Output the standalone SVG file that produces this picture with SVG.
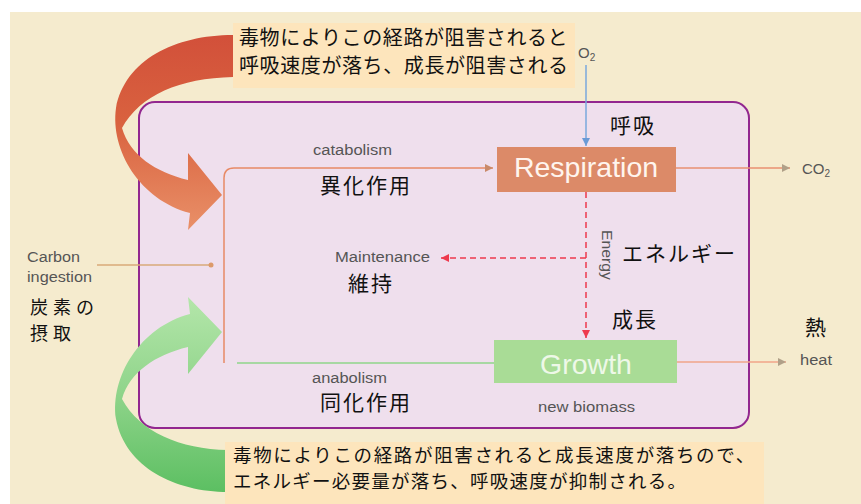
<svg xmlns="http://www.w3.org/2000/svg" width="861" height="504" viewBox="0 0 861 504">
<style>
.lbl{font-family:"Noto Sans CJK JP",sans-serif;font-size:21px;letter-spacing:2px;fill:#111;}
.call{font-family:"Noto Sans CJK JP",sans-serif;font-size:20px;fill:#111;}
.callsm{font-family:"Noto Sans CJK JP",sans-serif;font-size:18.5px;fill:#111;}
.lblsm{font-family:"Noto Sans CJK JP",sans-serif;font-size:18px;letter-spacing:5px;fill:#111;}
.gray{font-family:"Liberation Sans",Arial,sans-serif;font-size:14px;fill:#555;}
.box{font-family:"Liberation Sans",Arial,sans-serif;font-size:28.5px;}
.ln{fill:none;stroke-width:1.5;}
</style>
<defs>
<linearGradient id="gOr" x1="0" y1="0" x2="0" y2="1">
<stop offset="0" stop-color="#d2503a"/><stop offset="0.45" stop-color="#d9623f"/><stop offset="1" stop-color="#e99068"/>
</linearGradient>
<linearGradient id="gGr" x1="0" y1="0" x2="0" y2="1">
<stop offset="0" stop-color="#b4e6aa"/><stop offset="0.5" stop-color="#8fd48a"/><stop offset="1" stop-color="#5cbf62"/>
</linearGradient>
<marker id="aOr" markerUnits="userSpaceOnUse" markerWidth="8" markerHeight="8" refX="8" refY="4" orient="auto"><path d="M0,0 L8,4 L0,8 z" fill="#c98a6a"/></marker>
<marker id="aBl" markerUnits="userSpaceOnUse" markerWidth="8" markerHeight="8" refX="8" refY="4" orient="auto"><path d="M0,0 L8,4 L0,8 z" fill="#6a9ad6"/></marker>
<marker id="aRd" markerUnits="userSpaceOnUse" markerWidth="8" markerHeight="8" refX="8" refY="4" orient="auto"><path d="M0,0 L8,4 L0,8 z" fill="#ee3a4e"/></marker>
<marker id="aGy" markerUnits="userSpaceOnUse" markerWidth="8" markerHeight="8" refX="8" refY="4" orient="auto"><path d="M0,0 L8,4 L0,8 z" fill="#b0a088"/></marker>
<marker id="aDot" markerUnits="userSpaceOnUse" markerWidth="6" markerHeight="6" refX="3" refY="3"><circle cx="3" cy="3" r="2.5" fill="#dc9a6a"/></marker>
</defs>

<rect x="10" y="12" width="851" height="492" fill="#f5ebce"/>

<g id="cell">
<rect x="139" y="102" width="610" height="326" rx="16" fill="#efdfed" stroke="#92278f" stroke-width="2"/>
</g>

<g id="connectors">
<path class="ln" d="M224,363 L224,178 Q224,168 234,168 L493,168" stroke="#e88a66" marker-end="url(#aOr)"/>
<path class="ln" d="M237,363 L495,363" stroke="#8fd68a"/>
<path class="ln" d="M97,265 L211,265" stroke="#d8aa78" marker-end="url(#aDot)"/>
<path class="ln" d="M586,65 L586,146" stroke="#7aa8dc" marker-end="url(#aBl)"/>
<path class="ln" d="M676,168 L790,168" stroke="#e89070" marker-end="url(#aGy)"/>
<path class="ln" d="M677,362 L786,362" stroke="#f0a488" marker-end="url(#aGy)"/>
<path class="ln" d="M586,192 L586,338" stroke="#ee3a4e" stroke-dasharray="6,4" marker-end="url(#aRd)"/>
<path class="ln" d="M586,258 L441,258" stroke="#ee3a4e" stroke-dasharray="6,4" marker-end="url(#aRd)"/>
</g>

<g id="respiration">
<rect x="497" y="147" width="179" height="45" fill="#dc8a68"/>
<text class="box" x="586" y="177" text-anchor="middle" fill="#fff5ee">Respiration</text>
</g>

<g id="growth">
<rect x="494" y="340" width="183" height="43" fill="#a9dc96"/>
<text class="box" x="586" y="374" text-anchor="middle" fill="#eef8e8">Growth</text>
</g>

<g id="arrow-catabolic">
<path d="M233,35 C175,35 125,60 116,108 C110,150 140,200 190,213 L188,230 L222,195 L188,153 L188,180 C155,172 130,155 122,128 C140,95 180,78 233,77 Z" fill="url(#gOr)"/>
</g>

<g id="arrow-anabolic">
<path d="M228,492 C175,492 125,467 116,419 C110,377 140,327 190,314 L188,297 L222,332 L188,374 L188,347 C155,355 130,372 122,399 C140,432 180,449 228,450 Z" fill="url(#gGr)"/>
</g>

<g id="callout-top">
<rect x="233" y="23" width="342" height="65" fill="#fde5bc"/>
<text class="call" letter-spacing="0.6"><tspan x="239" y="45">毒物によりこの経路が阻害されると</tspan><tspan x="239" y="73">呼吸速度が落ち、成長が阻害される</tspan></text>
</g>

<g id="callout-bottom">
<rect x="225" y="442" width="539" height="62" fill="#fde5bc"/>
<text class="callsm"><tspan x="233" y="462" letter-spacing="1.65">毒物によりこの経路が阻害されると成長速度が落ちので、</tspan><tspan x="233" y="488" letter-spacing="1.25">エネルギー必要量が落ち、呼吸速度が抑制される。</tspan></text>
</g>

<g id="labels">
<text class="gray" x="578" y="58" style="font-size:15px">O<tspan style="font-size:10px" dy="3">2</tspan></text>
<text class="gray" x="802" y="174" style="font-size:15px">CO<tspan style="font-size:10px" dy="3">2</tspan></text>
<text class="gray" x="800" y="365" textLength="32" lengthAdjust="spacingAndGlyphs">heat</text>
<text class="gray" x="313" y="155" textLength="79" lengthAdjust="spacingAndGlyphs">catabolism</text>
<text class="gray" x="335" y="262" textLength="95" lengthAdjust="spacingAndGlyphs">Maintenance</text>
<text class="gray" x="312" y="383" textLength="75" lengthAdjust="spacingAndGlyphs">anabolism</text>
<text class="gray" x="538" y="412" textLength="97" lengthAdjust="spacingAndGlyphs">new biomass</text>
<text class="gray"><tspan x="27" y="262" textLength="53" lengthAdjust="spacingAndGlyphs">Carbon</tspan><tspan x="27" y="282" textLength="65" lengthAdjust="spacingAndGlyphs">ingestion</tspan></text>
<text class="gray" transform="translate(602,230) rotate(90)" textLength="50" lengthAdjust="spacingAndGlyphs">Energy</text>

<text class="lbl" x="610" y="133">呼吸</text>
<text class="lbl" x="320" y="193">異化作用</text>
<text class="lbl" x="348" y="291">維持</text>
<text class="lbl" x="622" y="261">エネルギー</text>
<text class="lbl" x="612" y="327">成長</text>
<text class="lbl" x="805" y="335">熱</text>
<text class="lbl" x="320" y="410">同化作用</text>
<text class="lblsm"><tspan x="30" y="314">炭素の</tspan><tspan x="30" y="339.5">摂取</tspan></text>
</g>
</svg>
